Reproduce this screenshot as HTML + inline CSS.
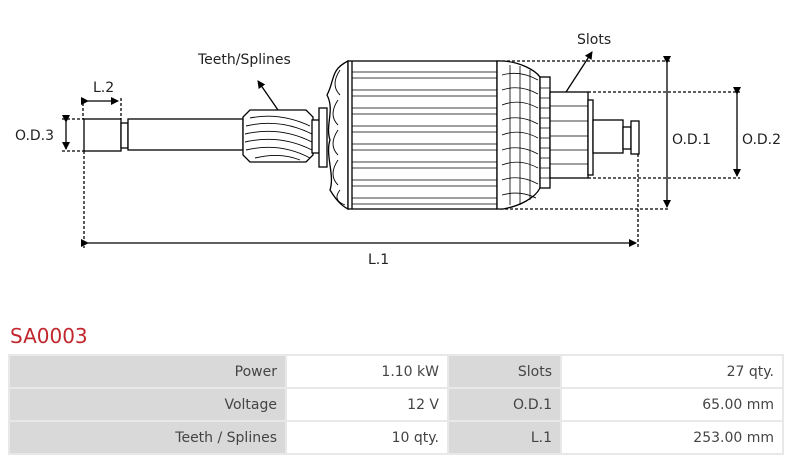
<!DOCTYPE html>
<html><head><meta charset="utf-8"><style>
body{margin:0;width:797px;height:458px;background:#fff;font-family:"DejaVu Sans","Liberation Sans",sans-serif;overflow:hidden;position:relative}
svg{position:absolute;left:0;top:0}
.t{font-family:"DejaVu Sans","Liberation Sans",sans-serif;font-size:14px;fill:#222}
#title{position:absolute;left:10px;top:324px;font-size:20px;color:#c0272d}
table{position:absolute;left:8px;top:354px;border-collapse:separate;border-spacing:2px;background:#e8e8e8;font-size:14px;color:#444}
td{height:31px;text-align:right;padding:0 8px;background:#fff}
td.g{background:#d9d9d9}
</style></head><body>
<svg width="797" height="320" viewBox="0 0 797 320">
<defs><marker id="a" markerWidth="8" markerHeight="8" refX="7" refY="4" orient="auto" markerUnits="userSpaceOnUse"><path d="M0,0 L8,4 L0,8 z" fill="#000"/></marker></defs>
<g stroke="#000" stroke-width="1.3" fill="#fff">
<g stroke-dasharray="3,2" fill="none">
<path d="M83,98 V119 M121,98 V119 M62,119 H84 M62,151 H84 M84,151 V248 M497,61 H670 M588,92 H740 M588,178 H740 M500,209 H670 M638,154 V248"/>
</g>
<line x1="88" y1="101" x2="118" y2="101" marker-end="url(#a)" marker-start="url(#a)"/>
<line x1="66" y1="122" x2="66" y2="149" marker-end="url(#a)" marker-start="url(#a)"/>
<line x1="88" y1="243" x2="636" y2="243" marker-end="url(#a)" marker-start="url(#a)"/>
<line x1="667" y1="63" x2="667" y2="207" marker-end="url(#a)" marker-start="url(#a)"/>
<line x1="737" y1="94" x2="737" y2="176" marker-end="url(#a)" marker-start="url(#a)"/>
<line x1="278" y1="110" x2="258" y2="81" marker-end="url(#a)"/>
<line x1="566" y1="92" x2="592" y2="52" marker-end="url(#a)"/>
<rect x="84" y="119" width="37" height="32"/>
<rect x="121" y="123" width="7" height="25"/>
<rect x="128" y="119" width="115" height="31"/>
<path d="M250,110 H306 L313,117 V155 L306,162 H250 L243,155 V117 Z"/>
<g fill="none" stroke-width="0.9"><path d="M250,118 Q280,112 310,126 M246,126 Q280,118 312,134 M245,134 Q280,126 312,142 M245,142 Q280,134 312,150 M246,150 Q280,142 310,158 M255,158 Q280,152 300,160"/></g>
<rect x="312" y="120" width="8" height="33"/>
<rect x="319" y="108" width="8" height="59"/>
<path d="M348,61 C330,70 335,80 327,95 C335,110 325,125 330,140 C325,155 335,175 330,190 C335,198 340,205 348,209 Z"/>
<g fill="none" stroke-width="0.9"><path d="M340,70 Q330,85 340,95 M338,100 Q328,115 338,125 M338,130 Q328,145 338,155 M338,160 Q328,175 338,185 M340,190 Q332,200 345,205"/></g>
<rect x="348" y="61" width="149" height="148"/>
<g stroke-width="0.8"><path d="M352,72 H497 M352,78 H497 M352,90 H497 M352,96 H497 M352,108 H497 M352,114 H497 M352,126 H497 M352,132 H497 M352,144 H497 M352,150 H497 M352,162 H497 M352,168 H497 M352,180 H497 M352,186 H497 M352,198 H497 M352,204 H497"/></g>
<line x1="352" y1="61" x2="352" y2="209"/>
<path d="M497,61 H503 C520,62 535,70 540,77 V188 C535,198 520,206 503,209 H497 Z"/>
<g fill="none" stroke-width="0.8"><path d="M502,75 Q520,70 538,80 M502,90 Q520,84 538,94 M502,105 Q520,98 538,108 M502,120 Q520,114 538,124 M502,135 Q520,128 538,138 M502,150 Q520,144 538,154 M502,165 Q520,158 538,168 M502,180 Q520,174 538,184 M502,195 Q520,190 536,198 M510,65 V205 M520,66 V205 M530,70 V200"/></g>
<rect x="540" y="77" width="10" height="111"/>
<g stroke-width="0.7"><path d="M540,88 H550 M540,98 H550 M540,108 H550 M540,118 H550 M540,128 H550 M540,138 H550 M540,148 H550 M540,158 H550 M540,168 H550 M540,178 H550"/></g>
<rect x="550" y="92" width="38" height="86"/>
<g stroke-width="0.7"><path d="M550,106 H588 M550,121 H588 M550,136 H588 M550,150 H588 M550,164 H588"/></g>
<rect x="588" y="100" width="5" height="75"/>
<rect x="593" y="120" width="30" height="33"/>
<rect x="623" y="127" width="8" height="22"/>
<rect x="631" y="121" width="8" height="33"/>
</g>
<text class="t" x="198" y="64">Teeth/Splines</text>
<text class="t" x="577" y="44">Slots</text>
<text class="t" x="93" y="92">L.2</text>
<text class="t" x="15" y="140">O.D.3</text>
<text class="t" x="672" y="144">O.D.1</text>
<text class="t" x="742" y="144">O.D.2</text>
<text class="t" x="368" y="264">L.1</text>
</svg>
<div id="title">SA0003</div>
<table>
<tr><td class="g" style="width:259px">Power</td><td style="width:144px">1.10 kW</td><td class="g" style="width:95px">Slots</td><td style="width:204px">27 qty.</td></tr>
<tr><td class="g">Voltage</td><td>12 V</td><td class="g">O.D.1</td><td>65.00 mm</td></tr>
<tr><td class="g">Teeth / Splines</td><td>10 qty.</td><td class="g">L.1</td><td>253.00 mm</td></tr>
</table>
</body></html>
